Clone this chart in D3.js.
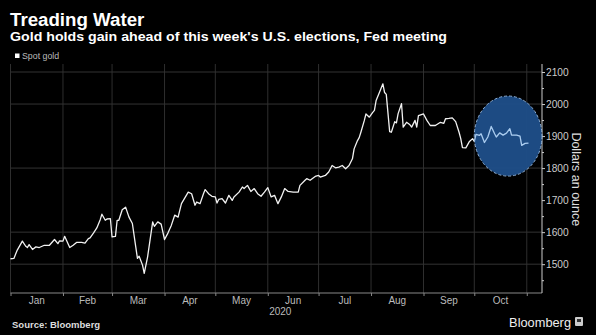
<!DOCTYPE html>
<html>
<head>
<meta charset="utf-8">
<script src="https://cdn.jsdelivr.net/npm/d3@7"></script>
<style>
  body { margin: 0; background: #000; }
  svg { display: block; font-family: "Liberation Sans", Arial, sans-serif; }
</style>
</head>
<body>
<svg width="596" height="335"></svg>
<script>
// spot gold
const dates = ["2020-01-01","2020-01-03","2020-01-05","2020-01-08","2020-01-10","2020-01-11","2020-01-12","2020-01-14","2020-01-16","2020-01-18",
  "2020-01-21","2020-01-24","2020-01-27","2020-01-29","2020-01-30","2020-02-01","2020-02-02","2020-02-05","2020-02-07","2020-02-09",
  "2020-02-12","2020-02-14","2020-02-16","2020-02-17","2020-02-19","2020-02-21","2020-02-23","2020-02-24","2020-02-26","2020-02-27",
  "2020-02-29","2020-03-01","2020-03-03","2020-03-04","2020-03-05","2020-03-07","2020-03-09","2020-03-11","2020-03-13","2020-03-15",
  "2020-03-16","2020-03-17","2020-03-19","2020-03-20","2020-03-22","2020-03-25","2020-03-26","2020-03-28","2020-03-30","2020-04-01",
  "2020-04-03","2020-04-05","2020-04-07","2020-04-09","2020-04-11","2020-04-15","2020-04-17","2020-04-19","2020-04-20","2020-04-22",
  "2020-04-24","2020-04-25","2020-04-27","2020-04-29","2020-05-01","2020-05-02","2020-05-03","2020-05-05","2020-05-07","2020-05-09",
  "2020-05-11","2020-05-12","2020-05-15","2020-05-17","2020-05-18","2020-05-20","2020-05-22","2020-05-24","2020-05-26","2020-05-28",
  "2020-05-30","2020-06-01","2020-06-03","2020-06-05","2020-06-07","2020-06-09","2020-06-11","2020-06-13","2020-06-16","2020-06-19",
  "2020-06-20","2020-06-23","2020-06-24","2020-06-26","2020-06-29","2020-07-01","2020-07-02","2020-07-05","2020-07-07","2020-07-09",
  "2020-07-11","2020-07-13","2020-07-15","2020-07-17","2020-07-19","2020-07-21","2020-07-22","2020-07-24","2020-07-25","2020-07-26",
  "2020-07-28","2020-07-29","2020-07-31","2020-08-02","2020-08-03","2020-08-04","2020-08-06","2020-08-08","2020-08-09","2020-08-10",
  "2020-08-12","2020-08-13","2020-08-15","2020-08-16","2020-08-17","2020-08-19","2020-08-20","2020-08-22","2020-08-24","2020-08-25",
  "2020-08-27","2020-08-28","2020-08-29","2020-09-01","2020-09-03","2020-09-05","2020-09-08","2020-09-11","2020-09-13","2020-09-14",
  "2020-09-16","2020-09-18","2020-09-20","2020-09-22","2020-09-23","2020-09-24","2020-09-26","2020-09-28","2020-09-30","2020-10-01",
  "2020-10-02","2020-10-04","2020-10-05","2020-10-07","2020-10-09","2020-10-11","2020-10-13","2020-10-14","2020-10-16","2020-10-18",
  "2020-10-20","2020-10-22","2020-10-23","2020-10-26","2020-10-28","2020-10-29","2020-10-31","2020-11-02"];
const prices = [1517,1518,1544,1572,1556,1552,1561,1546,1554,1552,
  1559,1559,1577,1564,1573,1572,1587,1552,1559,1568,
  1568,1566,1580,1582,1597,1613,1639,1656,1637,1641,
  1642,1585,1587,1637,1637,1670,1678,1647,1627,1554,
  1518,1525,1497,1471,1523,1632,1618,1632,1625,1577,
  1597,1621,1653,1647,1689,1725,1720,1684,1694,1689,
  1720,1733,1720,1712,1710,1691,1702,1705,1691,1715,
  1699,1710,1725,1741,1736,1746,1727,1736,1720,1712,
  1725,1739,1710,1715,1689,1710,1736,1727,1725,1725,
  1746,1762,1767,1762,1774,1777,1772,1777,1788,1808,
  1801,1803,1808,1798,1808,1829,1860,1886,1895,1912,
  1948,1969,1959,1974,1980,2011,2037,2063,2036,2030,
  1914,1912,1945,1941,1970,2001,1928,1943,1935,1928,
  1949,1928,1964,1969,1949,1933,1933,1943,1940,1954,
  1955,1957,1945,1912,1892,1864,1863,1882,1892,1883,
  1905,1902,1907,1880,1897,1930,1907,1897,1910,1903,
  1909,1923,1903,1903,1900,1871,1877,1878];

const monthLabels = ["Jan","Feb","Mar","Apr","May","Jun","Jul","Aug","Sep","Oct"];
const yTicks = [1500,1600,1700,1800,1900,2000,2100];
const yGrid = [1500,1600,1800,2000,2100];
const yMinor = [1450,1550,1650,1750,1850,1950,2050];
// highlighted window around election
const circleDates = ["2020-10-01","2020-11-10"];
const circleValues = [1775,2025];

const parse = d3.isoParse;
const data = dates.map((d, i) => ({date: parse(d), value: prices[i]}));

const svg = d3.select("svg");
const pLeft = 10.5, pRight = 542, pTop = 64, pBottom = 293;

const x = d3.scaleTime()
  .domain([parse("2020-01-01"), parse("2020-11-10")])
  .range([pLeft, pRight]);
const y = d3.scaleLinear()
  .domain([1410, 2125])
  .range([pBottom, pTop]);

// titles
svg.append("text").attr("x", 10).attr("y", 26)
  .attr("fill", "#fff").attr("font-weight", "bold").attr("font-size", 18.7)
  .text("Treading Water");
svg.append("text").attr("x", 10).attr("y", 40.5)
  .attr("fill", "#fff").attr("font-weight", "bold").attr("font-size", 12.8)
  .attr("textLength", 437).attr("lengthAdjust", "spacingAndGlyphs")
  .text("Gold holds gain ahead of this week's U.S. elections, Fed meeting");

// legend
svg.append("rect").attr("x", 15).attr("y", 53.5).attr("width", 4.5).attr("height", 4.5).attr("fill", "#fff");
svg.append("text").attr("x", 22).attr("y", 59)
  .attr("fill", "#bbb").attr("font-size", 8.8).text("Spot gold");

// grid
const months = d3.timeMonth.range(parse("2020-01-01"), parse("2020-11-02"));
svg.append("g").selectAll("line").data(months).join("line")
  .attr("x1", d => x(d)).attr("x2", d => x(d))
  .attr("y1", pTop).attr("y2", pBottom)
  .attr("stroke", "#2e2e2e").attr("stroke-width", 1);
svg.append("g").selectAll("line").data(yGrid).join("line")
  .attr("x1", pLeft).attr("x2", pRight)
  .attr("y1", d => y(d)).attr("y2", d => y(d))
  .attr("stroke", "#333").attr("stroke-width", 1);

// x axis
const xAxis = svg.append("g").attr("transform", "translate(0," + pBottom + ")")
  .call(d3.axisBottom(x).tickValues(months).tickSize(3).tickFormat(""));
xAxis.select(".domain").attr("stroke", "#888").attr("d", "M" + pLeft + ",0H" + pRight);
xAxis.selectAll(".tick line").attr("stroke", "#888");

svg.append("g").selectAll("text").data(months.slice(0, 10)).join("text")
  .attr("x", d => x(new Date(d.getTime() + (d3.timeMonth.offset(d, 1) - d) / 2)))
  .attr("y", 304)
  .attr("text-anchor", "middle").attr("fill", "#bbb").attr("font-size", 10)
  .text((d, i) => monthLabels[i]);
svg.append("text").attr("x", (pLeft + pRight) / 2 + 4).attr("y", 315)
  .attr("text-anchor", "middle").attr("fill", "#bbb").attr("font-size", 10).text("2020");

// y axis (right)
const yAxis = svg.append("g").attr("transform", "translate(" + pRight + ",0)")
  .call(d3.axisRight(y).tickValues(yTicks).tickSize(3).tickPadding(1).tickFormat(d3.format("d")));
yAxis.select(".domain").attr("stroke", "#ccc").attr("d", "M0," + pTop + "V" + pBottom);
yAxis.selectAll(".tick line").attr("stroke", "#ccc");
yAxis.selectAll(".tick text").attr("fill", "#ccc").attr("font-size", 10.2)
  .attr("font-family", "Liberation Sans, Arial, sans-serif");
const yMinorAxis = svg.append("g").attr("transform", "translate(" + pRight + ",0)")
  .call(d3.axisRight(y).tickValues(yMinor).tickSize(2).tickFormat(""));
yMinorAxis.select(".domain").remove();
yMinorAxis.selectAll(".tick line").attr("stroke", "#ccc");

svg.append("text")
  .attr("transform", "translate(572," + (y(1765)) + ") rotate(90)")
  .attr("text-anchor", "middle").attr("fill", "#ddd").attr("font-size", 12.5)
  .text("Dollars an ounce");

// line
const line = d3.line().x(d => x(d.date)).y(d => y(d.value));
svg.append("path").datum(data)
  .attr("d", line).attr("fill", "none")
  .attr("stroke", "#f2f2f2").attr("stroke-width", 1.3).attr("stroke-linejoin", "round");

// highlight ellipse
const cx0 = x(parse(circleDates[0])), cx1 = x(parse(circleDates[1]));
const cy0 = y(circleValues[1]), cy1 = y(circleValues[0]);
const ell = {cx: (cx0 + cx1) / 2, cy: (cy0 + cy1) / 2, rx: (cx1 - cx0) / 2, ry: (cy1 - cy0) / 2};
svg.append("clipPath").attr("id", "ellclip").append("ellipse")
  .attr("cx", ell.cx).attr("cy", ell.cy).attr("rx", ell.rx).attr("ry", ell.ry);
svg.append("ellipse")
  .attr("cx", ell.cx).attr("cy", ell.cy).attr("rx", ell.rx).attr("ry", ell.ry)
  .attr("fill", "#1f4f8a").attr("fill-opacity", 0.95)
  .attr("stroke", "#8fb0d6").attr("stroke-width", 1).attr("stroke-dasharray", "3,2");
svg.append("path").datum(data)
  .attr("d", line).attr("fill", "none").attr("clip-path", "url(#ellclip)")
  .attr("stroke", "#a9cbee").attr("stroke-width", 1.3).attr("stroke-linejoin", "round");

// footer
svg.append("text").attr("x", 12).attr("y", 328)
  .attr("fill", "#ddd").attr("font-weight", "bold").attr("font-size", 9.5)
  .text("Source: Bloomberg");
svg.append("text").attr("x", 571).attr("y", 327)
  .attr("text-anchor", "end").attr("fill", "#eee").attr("font-size", 12.8)
  .text("Bloomberg");
svg.append("rect").attr("x", 575).attr("y", 317).attr("width", 8).attr("height", 9)
  .attr("rx", 1).attr("fill", "#ccc");
svg.append("rect").attr("x", 577).attr("y", 319).attr("width", 4).attr("height", 3)
  .attr("fill", "#333");
</script>
</body>
</html>
